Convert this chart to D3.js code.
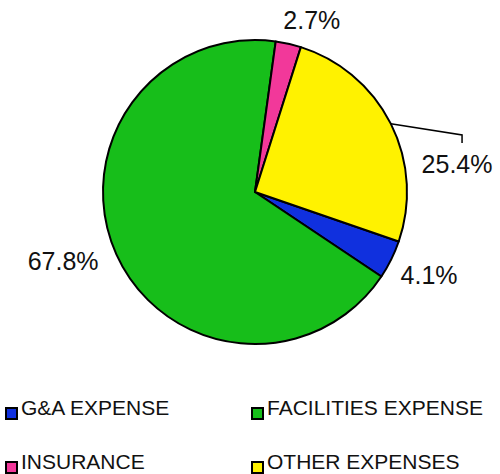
<!DOCTYPE html>
<html lang="en">
  <head>
    <meta charset="UTF-8" />
    <title>Expense breakdown</title>
    <script src="https://cdn.jsdelivr.net/npm/d3@7"></script>
    <style>
      body {
        margin: 0;
        background: #fff;
      }
      svg {
        display: block;
        font-family: "Liberation Sans", Arial, sans-serif;
      }
    </style>
  </head>
  <body>
    <svg width="500" height="474"></svg>
    <script>
      // data, in legend order
      const categories = ["G&A EXPENSE", "FACILITIES EXPENSE", "INSURANCE", "OTHER EXPENSES"];
      const shares = [4.1, 67.8, 2.7, 25.4];
      const sliceColors = ["#1030de", "#17be1a", "#f2389a", "#fff200"];

      const cx = 255,
        cy = 192,
        radius = 152;
      const startDeg = 109; // first slice (G&A) starts here, clockwise from 12 o'clock

      // label placement: extra angle from the slice middle + distance from centre
      const labelNudge = {
        "G&A EXPENSE": { da: -0.8, r: 193 },
        "FACILITIES EXPENSE": { da: 4.4, r: 204 },
        "INSURANCE": { da: 5.6, r: 181 },
        "OTHER EXPENSES": { da: 18.8, r: 204, leader: true },
      };

      const data = categories.map((c, i) => ({ name: c, value: shares[i], color: sliceColors[i] }));
      const rad = (d) => (d * Math.PI) / 180;

      const svg = d3.select("svg");
      const pie = d3
        .pie()
        .sort(null)
        .value((d) => d.value)
        .startAngle(rad(startDeg))
        .endAngle(rad(startDeg) + 2 * Math.PI);
      const arc = d3.arc().innerRadius(0).outerRadius(radius);
      const arcs = pie(data);

      const g = svg.append("g").attr("transform", `translate(${cx},${cy})`);
      g.selectAll("path")
        .data(arcs)
        .enter()
        .append("path")
        .attr("d", arc)
        .attr("fill", (d) => d.data.color)
        .attr("stroke", "#000")
        .attr("stroke-width", 2)
        .attr("stroke-linejoin", "round");

      const polar = (a, r) => [r * Math.sin(a), -r * Math.cos(a)];

      arcs.forEach((d) => {
        const nudge = labelNudge[d.data.name];
        const mid = (d.startAngle + d.endAngle) / 2;
        const [lx, ly] = polar(mid + rad(nudge.da), nudge.r);
        if (nudge.leader) {
          const [ex, ey] = polar(mid, radius);
          g.append("path")
            .attr("d", d3.line()([[ex, ey], [lx + 5, ly - 29], [lx + 5, ly - 21]]))
            .attr("fill", "none")
            .attr("stroke", "#000")
            .attr("stroke-width", 1.5);
        }
        g.append("text")
          .attr("x", lx)
          .attr("y", ly)
          .attr("dy", "0.35em")
          .attr("text-anchor", "middle")
          .attr("font-size", 25)
          .attr("fill", "#111")
          .text(d.data.value.toFixed(1) + "%");
      });

      // legend, two columns
      const legend = svg
        .selectAll("g.legend")
        .data(data)
        .enter()
        .append("g")
        .attr("class", "legend")
        .attr("transform", (d, i) => `translate(${(i % 2) * 246 + 6},${Math.floor(i / 2) * 54 + 408})`);
      legend
        .append("rect")
        .attr("width", 11)
        .attr("height", 11)
        .attr("fill", (d) => d.color)
        .attr("stroke", "#000")
        .attr("stroke-width", 2);
      legend
        .append("text")
        .attr("x", 15)
        .attr("y", 6.5)
        .attr("font-size", 21)
        .attr("fill", "#111")
        .text((d) => d.name);
    </script>
  </body>
</html>
